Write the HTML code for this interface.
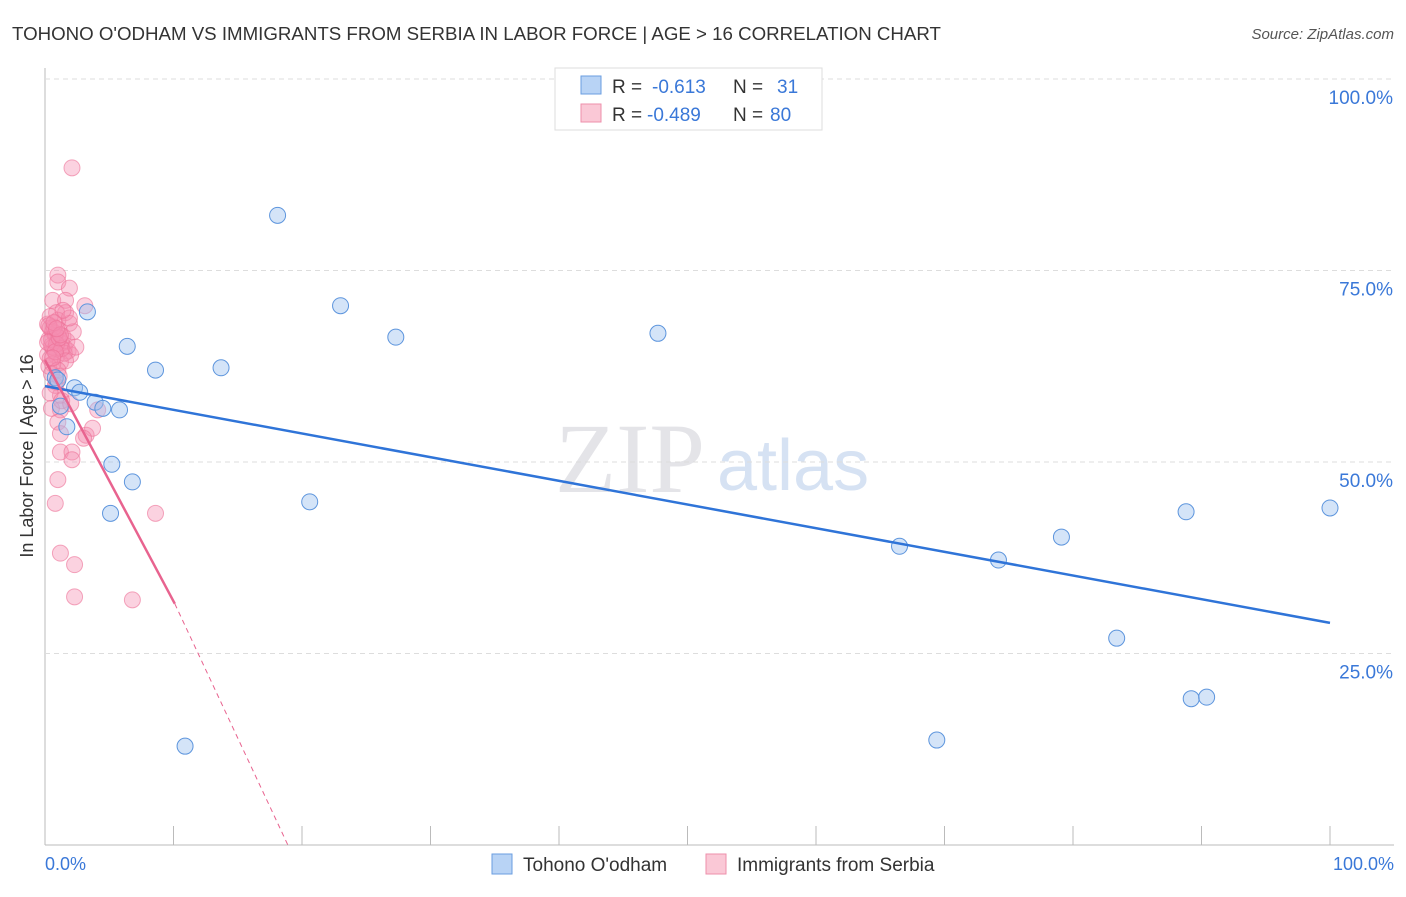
<!DOCTYPE html>
<html><head><meta charset="utf-8"><style>
body{margin:0;background:#fff;font-family:"Liberation Sans",sans-serif;}
</style></head><body>
<svg id="c" width="1406" height="892" xmlns="http://www.w3.org/2000/svg">
<text x="12" y="40" font-size="18.7" fill="#333">TOHONO O'ODHAM VS IMMIGRANTS FROM SERBIA IN LABOR FORCE | AGE &gt; 16 CORRELATION CHART</text>
<text x="1394" y="39" font-size="15" fill="#555" font-style="italic" text-anchor="end">Source: ZipAtlas.com</text>
<text x="555" y="492" font-size="100" fill="#e4e4e8" font-family="Liberation Serif,serif">ZIP</text>
<text x="717" y="490" font-size="72" fill="#d6e2f3">atlas</text>
<g id="grid"></g><g id="pts"></g><g id="lines"></g>
<text transform="translate(33,456) rotate(-90)" font-size="18" fill="#333" text-anchor="middle">In Labor Force | Age &gt; 16</text>
<text x="45" y="870" font-size="18" fill="#3a78d8">0.0%</text>
<text x="1394" y="870" font-size="18" fill="#3a78d8" text-anchor="end">100.0%</text>
<g>
<rect x="555" y="68" width="267" height="62" fill="#fff" stroke="#ddd"/>
<rect x="581" y="76" width="20" height="18" fill="#b8d3f5" stroke="#6a9ee0"/>
<rect x="581" y="104" width="20" height="18" fill="#fac8d6" stroke="#ee8fab"/>
<text x="612" y="93" font-size="19" fill="#333">R =</text>
<text x="652" y="93" font-size="19" fill="#3a78d8">-0.613</text>
<text x="733" y="93" font-size="19" fill="#333">N =</text>
<text x="777" y="93" font-size="19" fill="#3a78d8">31</text>
<text x="612" y="121" font-size="19" fill="#333">R =</text>
<text x="647" y="121" font-size="19" fill="#3a78d8">-0.489</text>
<text x="733" y="121" font-size="19" fill="#333">N =</text>
<text x="770" y="121" font-size="19" fill="#3a78d8">80</text>
</g>
<g>
<rect x="492" y="854" width="20" height="20" fill="#b8d3f5" stroke="#6a9ee0"/>
<text x="523" y="871" font-size="19" fill="#333">Tohono O'odham</text>
<rect x="706" y="854" width="20" height="20" fill="#fac8d6" stroke="#ee8fab"/>
<text x="737" y="871" font-size="19" fill="#333">Immigrants from Serbia</text>
</g>
</svg>
<script>
const blueX=[18.1,23.0,27.3,47.7,3.3,6.4,8.6,13.7,2.3,2.7,3.9,4.5,5.8,1.7,5.2,6.8,5.1,20.6,0.8,10.9,66.5,74.2,79.1,83.4,88.8,89.2,90.4,69.4,100,1.2,1.0];
const blueY=[82.2,70.4,66.3,66.8,69.6,65.1,62.0,62.3,59.7,59.1,57.8,57.0,56.8,54.6,49.7,47.4,43.3,44.8,61.0,12.9,39.0,37.2,40.2,27.0,43.5,19.1,19.3,13.7,44.0,57.3,60.7];
const pinkX=[2.1,1.0,1.0,1.9,0.6,1.6,3.1,1.6,0.9,1.9,0.9,1.2,1.2,1.0,1.2,1.2,2.1,2.1,3.2,3.7,4.1,1.0,0.8,1.2,2.3,2.3,6.8,8.6,3.0,
0.2,0.4,0.6,0.8,1.0,1.3,1.5,1.8,2.0,0.3,0.5,0.7,0.9,1.1,1.4,1.7,2.2,0.2,0.4,0.6,0.8,1.0,1.2,1.5,0.3,0.5,0.7,0.9,1.3,1.6,1.9,0.2,0.4,0.6,0.8,1.1,1.4,0.3,0.5,0.7,1.0,1.2,2.4,0.5,0.8,1.1,0.4,0.6,0.9,1.3,2.0];
const pinkY=[88.4,74.4,73.5,72.7,71.1,71.1,70.4,69.5,69.5,68.1,60.4,58.7,56.8,55.2,53.7,51.3,51.3,50.3,53.5,54.4,56.8,47.7,44.6,38.1,36.6,32.4,32.0,43.3,53.1,
68.0,67.5,67.0,66.5,66.0,65.5,65.0,64.5,64.0,66.0,65.2,64.6,63.8,67.2,66.4,65.8,67.0,64.0,63.5,65.0,66.8,68.5,63.0,64.2,62.5,66.0,67.6,65.4,64.8,63.2,68.8,65.6,69.0,62.8,64.4,66.2,69.8,67.8,61.5,68.2,62.0,66.6,65.0,57.0,60.0,61.2,59.0,63.6,67.4,58.0,57.6];
const yTicks=[25,50,75,100];
const blueTrend=[59.9,29.0];
const pinkTrend=[63.3,31.5,10.1,18.9];
const NS="http://www.w3.org/2000/svg";
const X=v=>45+v*12.85, Y=v=>845-v*7.66;
function mk(p,t,a){const e=document.createElementNS(NS,t);for(const k in a)e.setAttribute(k,a[k]);p.appendChild(e);return e;}
const g=document.getElementById('grid');
mk(g,'line',{x1:45,y1:68,x2:45,y2:845,stroke:'#bbb'});
mk(g,'line',{x1:45,y1:845,x2:1394,y2:845,stroke:'#bbb'});
for(let i=1;i<=10;i++){const l=mk(g,'line',{x1:45+i*128.5,y1:826,x2:45+i*128.5,y2:845,stroke:'#bbb'});

}
yTicks.forEach(t=>{const l=mk(g,'line',{x1:45,y1:Y(t),x2:1394,y2:Y(t),stroke:'#ddd','stroke-dasharray':'5,4'});


const tx=mk(g,'text',{x:1393,y:Y(t)+25,'font-size':19,fill:'#3a78d8','text-anchor':'end'});tx.textContent=t.toFixed(1)+'%';

});
const p=document.getElementById('pts');
pinkX.forEach((x,i)=>{const c=mk(p,'circle',{cx:X(x),cy:Y(pinkY[i]),r:8,fill:'rgba(244,143,177,0.4)',stroke:'rgba(236,112,150,0.6)'});

});
blueX.forEach((x,i)=>{const c=mk(p,'circle',{cx:X(x),cy:Y(blueY[i]),r:8,fill:'rgba(160,195,240,0.45)',stroke:'#5d95dd'});

});
const L=document.getElementById('lines');
const bl=mk(L,'line',{x1:X(0),y1:Y(blueTrend[0]),x2:X(100),y2:Y(blueTrend[1]),stroke:'#2f74d8','stroke-width':2.5});


const pl=mk(L,'line',{x1:X(0),y1:Y(pinkTrend[0]),x2:X(pinkTrend[2]),y2:Y(pinkTrend[1]),stroke:'#e8638f','stroke-width':2.5});


const pd=mk(L,'line',{x1:X(pinkTrend[2]),y1:Y(pinkTrend[1]),x2:X(pinkTrend[3]),y2:Y(0),stroke:'#e8638f','stroke-width':1,'stroke-dasharray':'5,4'});


</script>
</body></html>
